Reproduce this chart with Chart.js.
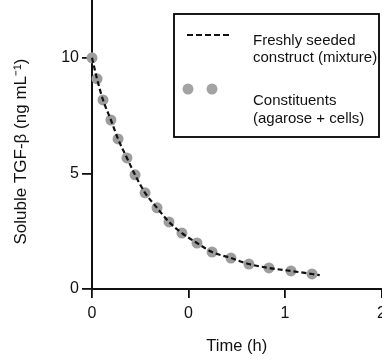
<!DOCTYPE html>
<html>
<head>
<meta charset="utf-8">
<title>Soluble TGF-beta</title>
<script src="https://cdn.jsdelivr.net/npm/chart.js@4"></script>
<style>
  html, body { margin: 0; padding: 0; background: #fff; overflow: hidden; }
</style>
</head>
<body>
<canvas id="decayChart" width="400" height="362"></canvas>
<script>

/* DATA */

const timeHours  = [0, 0.026, 0.057, 0.098, 0.135, 0.181, 0.223, 0.275, 0.337, 0.399, 0.466, 0.544, 0.622, 0.72, 0.813, 0.917, 1.031, 1.14];
const solubleTGF = [10, 9.09, 8.18, 7.31, 6.49, 5.67, 4.94, 4.16, 3.51, 2.9, 2.42, 1.99, 1.6, 1.34, 1.08, 0.91, 0.78, 0.65];

// dashed curve: passes through the dots and runs a little past the last one
const fitTime = [0, 0.026, 0.057, 0.098, 0.135, 0.181, 0.223, 0.275, 0.337, 0.399, 0.466, 0.544, 0.622, 0.72, 0.813, 0.917, 1.031, 1.14, 1.18];
const fitTGF  = [10, 9.09, 8.18, 7.31, 6.49, 5.67, 4.94, 4.16, 3.51, 2.9, 2.42, 1.99, 1.6, 1.34, 1.08, 0.91, 0.78, 0.65, 0.6];

const xTickValues = [0, 0.5, 1, 1.5];
const xTickLabels = ["0", "0", "1", "2"];
const yTickValues = [0, 5, 10];

const legendLabels = [
  ["Freshly seeded", "construct (mixture)"],
  ["Constituents", "(agarose + cells)"]
];

const FONT = "'Liberation Sans', Arial, Helvetica, sans-serif";
const DOT = "#9d9d9d";


/* LEGEND BOX */

const boxLegend = {
  id: "boxLegend",
  afterDraw(chart) {
    const ctx = chart.ctx;
    ctx.save();

    ctx.strokeStyle = "#000";
    ctx.lineWidth = 1.8;
    ctx.strokeRect(174, 14, 205, 123);

    // dashed sample
    ctx.setLineDash([6, 3]);
    ctx.lineWidth = 2;
    ctx.strokeStyle = "#111";
    ctx.beginPath();
    ctx.moveTo(187, 35);
    ctx.lineTo(231, 35);
    ctx.stroke();
    ctx.setLineDash([]);

    // two dots
    ctx.fillStyle = "#a3a3a3";
    [188, 212].forEach(x => {
      ctx.beginPath();
      ctx.arc(x, 89, 5.5, 0, Math.PI * 2);
      ctx.fill();
    });

    ctx.fillStyle = "#111";
    ctx.font = "15px " + FONT;
    ctx.textBaseline = "alphabetic";
    ctx.fillText(legendLabels[0][0], 253, 45);
    ctx.fillText(legendLabels[0][1], 253, 62);
    ctx.fillText(legendLabels[1][0], 253, 105);
    ctx.fillText(legendLabels[1][1], 253, 123);

    ctx.restore();
  }
};


/* CHART */

new Chart(document.getElementById("decayChart"), {

  type: "scatter",

  data: {
    datasets: [
      {
        type: "line",
        data: fitTime.map((t, i) => ({ x: t, y: fitTGF[i] })),
        borderColor: "#111",
        borderWidth: 2.2,
        borderDash: [5, 3],
        pointRadius: 0,
        cubicInterpolationMode: "monotone",
        fill: false,
        clip: false,
        order: 0
      },
      {
        data: timeHours.map((t, i) => ({ x: t, y: solubleTGF[i] })),
        backgroundColor: DOT,
        borderWidth: 0,
        pointRadius: 5.5,
        clip: false,
        order: 1
      }
    ]
  },

  options: {
    responsive: false,
    animation: false,
    layout: { autoPadding: false, padding: { top: 0, right: 18.5, bottom: 0, left: 0 } },
    plugins: {
      legend: { display: false },
      tooltip: { enabled: false }
    },
    scales: {
      x: {
        type: "linear",
        min: 0,
        max: 1.5,
        afterBuildTicks: s => { s.ticks = xTickValues.map(v => ({ value: v })); },
        afterFit: s => { s.height = 73; s.paddingRight = 0; s.paddingLeft = 0; },
        ticks: {
          callback: (v, i) => xTickLabels[i],
          color: "#111",
          font: { family: FONT, size: 16 },
          padding: 6,
          maxRotation: 0,
          autoSkip: false
        },
        grid: { drawOnChartArea: false, tickLength: 9, color: "#111", lineWidth: 1.8 },
        border: { color: "#111", width: 2 },
        title: {
          display: true,
          text: "Time (h)",
          color: "#111",
          font: { family: FONT, size: 16.5 },
          padding: { top: 0, bottom: 6 }
        }
      },
      y: {
        min: 0,
        max: 12.5,
        afterBuildTicks: s => { s.ticks = yTickValues.map(v => ({ value: v })); },
        afterFit: s => { s.width = 92; s.paddingTop = 0; s.paddingBottom = 0; },
        ticks: {
          color: "#111",
          font: { family: FONT, size: 16 },
          padding: 3
        },
        grid: { drawOnChartArea: false, tickLength: 10, color: "#111", lineWidth: 1.8 },
        border: { color: "#111", width: 2 },
        title: {
          display: true,
          text: "Soluble TGF-β (ng mL⁻¹)\u00a0\u00a0\u00a0",
          color: "#111",
          font: { family: FONT, size: 17 },
          padding: { top: 11, bottom: 0 }
        }
      }
    }
  },

  plugins: [boxLegend]

});

</script>
</body>
</html>
